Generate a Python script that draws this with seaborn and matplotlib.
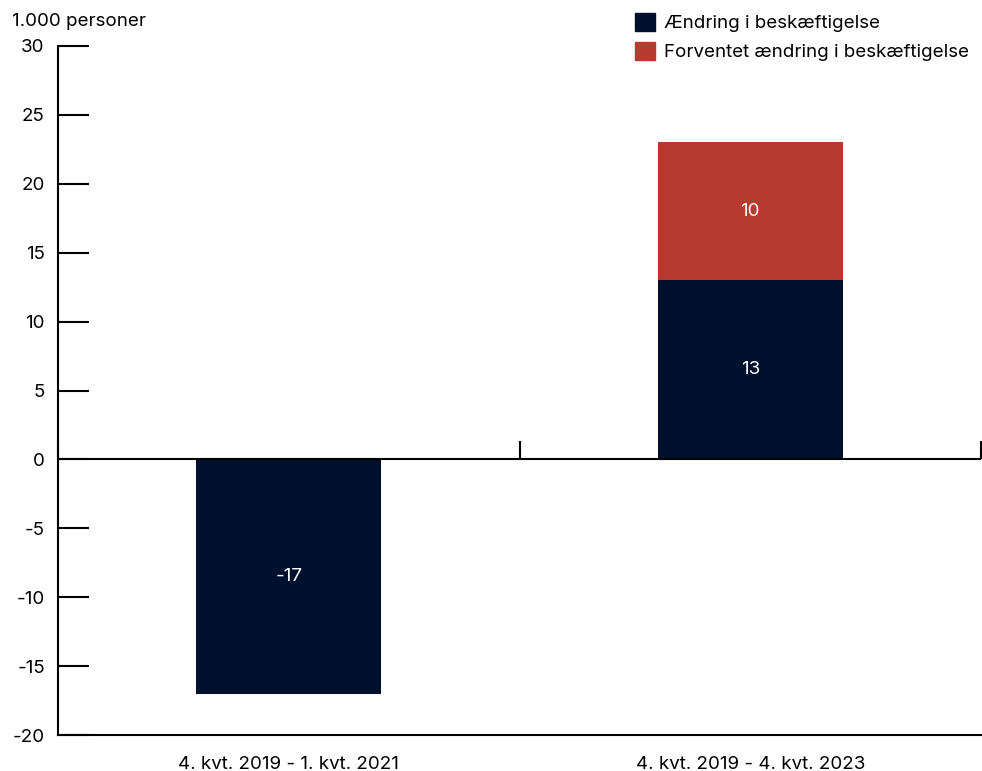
import matplotlib
matplotlib.use("Agg")
import matplotlib.pyplot as plt
import seaborn as sns
import pandas as pd
import numpy as np
from matplotlib.patches import Patch

categories = ["4. kvt. 2019 - 1. kvt. 2021", "4. kvt. 2019 - 4. kvt. 2023"]
actual = [-17, 13]
expected = [0, 10]
series_names = ["Ændring i beskæftigelse", "Forventet ændring i beskæftigelse"]
yticks = [-20, -15, -10, -5, 0, 5, 10, 15, 20, 25, 30]

NAVY = "#00112e"
RED = "#b73a2f"
FS = 13.5

sns.set_theme(style="white")
plt.rcParams["font.family"] = ["Inter", "DejaVu Sans"]
plt.rcParams["text.color"] = "black"
plt.rcParams["xtick.color"] = "black"
plt.rcParams["ytick.color"] = "black"
plt.rcParams["axes.labelcolor"] = "black"

fig = plt.figure(figsize=(9.82, 7.71), dpi=100)
ax = fig.add_axes([58 / 982, 1 - 735 / 771, (981 - 58) / 982, (735 - 46) / 771])

totals = [a + e if e != 0 else np.nan for a, e in zip(actual, expected)]
df_tot = pd.DataFrame({"cat": categories, "val": totals})
df_act = pd.DataFrame({"cat": categories, "val": actual})

sns.barplot(data=df_tot, x="cat", y="val", color=RED, width=0.4, saturation=1, ax=ax,
            errorbar=None, linewidth=0)
sns.barplot(data=df_act, x="cat", y="val", color=NAVY, width=0.4, saturation=1, ax=ax,
            errorbar=None, linewidth=0)

for i, (a, e) in enumerate(zip(actual, expected)):
    ax.text(i, a / 2, f"{a}", color="white", ha="center", va="center", fontsize=FS)
    if e:
        ax.text(i, a + e / 2, f"{e}", color="white", ha="center", va="center", fontsize=FS)

ax.set_xlim(-0.5, 1.5)
ax.set_ylim(-20, 30)
ax.set_yticks(yticks)
ax.set_yticklabels([str(t) for t in yticks], fontsize=FS)
ax.set_xlabel("")
ax.set_ylabel("")
ax.tick_params(axis="y", direction="in", length=22, width=1.5, color="black",
               labelcolor="black", pad=9.5, left=True)
ax.tick_params(axis="x", length=0, pad=15, labelsize=FS, labelcolor="black")

for s in ["top", "right"]:
    ax.spines[s].set_visible(False)
for s in ["left", "bottom"]:
    ax.spines[s].set_color("black")
    ax.spines[s].set_linewidth(1.5)

ax.axhline(0, color="black", lw=1.5, zorder=5)
ax.vlines([-0.5, 0.5, 1.5], 0, 1.3, color="black", lw=1.5, zorder=5, clip_on=False)

fig.text(12 / 982, 1 - 22 / 771, "1.000 personer", fontsize=FS, va="center", ha="left",
         color="black")

handles = [Patch(color=NAVY), Patch(color=RED)]
leg = fig.legend(handles, series_names, loc="upper right", bbox_to_anchor=(1.0, 1.0),
                 frameon=False, fontsize=FS, handlelength=1.1, handleheight=1.1,
                 handletextpad=0.45, labelspacing=0.5, borderaxespad=0.3)
for t in leg.get_texts():
    t.set_color("black")

fig.savefig("out.png", dpi=100)
